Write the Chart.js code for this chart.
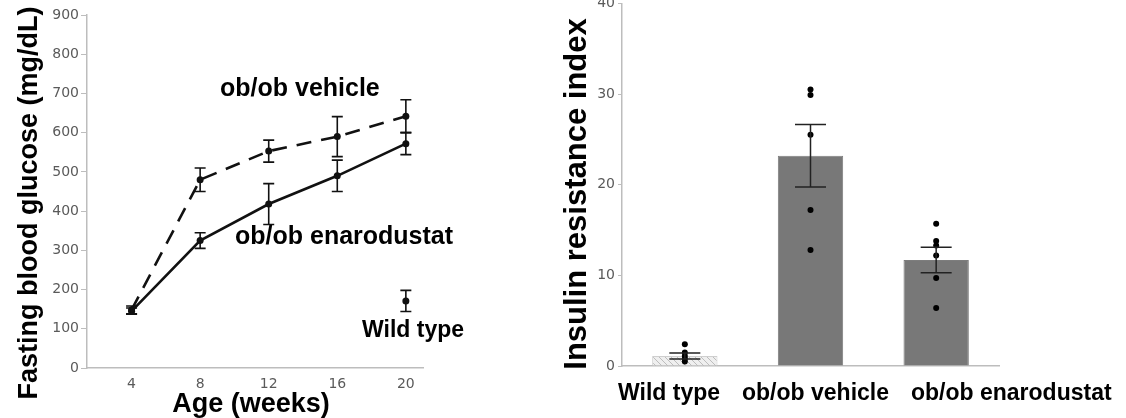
<!DOCTYPE html>
<html>
<head>
<meta charset="utf-8">
<script src="https://cdn.jsdelivr.net/npm/chart.js@4.4.1/dist/chart.umd.min.js"></script>
<style>
  html, body { margin: 0; padding: 0; background: #fff; }
  #wrap { position: relative; width: 1126px; height: 418px; overflow: hidden; }
  #glucose { position: absolute; left: 0; top: 0; }
  /* top label of this panel sits half outside the figure, as in the source */
  #homa { position: absolute; left: 540px; top: -8px; }
</style>
</head>
<body>
<div id="wrap">
  <canvas id="glucose" width="540" height="418"></canvas>
  <canvas id="homa" width="586" height="426"></canvas>
</div>
<script>
// left panel: fasting glucose by age
const weeks = [4, 8, 12, 16, 20];
const weekTicks = [4, 8, 12, 16, 20];
const vehicleGlucose = [148, 480, 553, 590, 642];
const vehicleGlucoseSem = [10, 30, 28, 51, 42];
const enaroGlucose = [145, 325, 418, 490, 572];
const enaroGlucoseSem = [8, 20, 52, 40, 28];
const wildWeeks = [20];
const wildGlucose = [171];
const wildGlucoseSem = [27];

// right panel: insulin resistance index
const groups = ["Wild type", "ob/ob vehicle", "ob/ob enarodustat"];
const irMean = [1.1, 23.2, 11.7];
const irSem = [0.33, 3.45, 1.4];
const irWild = [2.4, 1.5, 1.1, 0.8, 0.5];
const irVehicle = [30.5, 29.9, 25.5, 17.2, 12.8];
const irEnaro = [15.7, 13.8, 13.3, 12.2, 9.7, 6.4];

const BOLD = "bold {s}px 'Liberation Sans', Arial, sans-serif";
const boldFont = (s) => BOLD.replace("{s}", s);
const tickFont = { family: "'DejaVu Sans', sans-serif", size: 14 };
const tickColor = "#5a5a5a";
const axisGray = "#bdbdbd";

Chart.defaults.font.family = "'DejaVu Sans', sans-serif";
Chart.defaults.animation = false;

// mean +/- sem whiskers, read from dataset.sem
const errorBars = {
  id: "errorBars",
  afterDatasetsDraw(chart, args, opts) {
    const { ctx } = chart;
    const yScale = chart.scales.y;
    chart.data.datasets.forEach((ds, i) => {
      if (!ds.sem) return;
      const meta = chart.getDatasetMeta(i);
      meta.data.forEach((el, j) => {
        const v = meta.controller.getParsed(j).y;
        const top = yScale.getPixelForValue(v + ds.sem[j]);
        const bot = yScale.getPixelForValue(v - ds.sem[j]);
        const x = el.x;
        ctx.save();
        ctx.strokeStyle = opts.color || "#111";
        ctx.lineWidth = opts.width || 1.5;
        ctx.beginPath();
        ctx.moveTo(x, top); ctx.lineTo(x, bot);
        ctx.moveTo(x - opts.cap, top); ctx.lineTo(x + opts.cap, top);
        ctx.moveTo(x - opts.cap, bot); ctx.lineTo(x + opts.cap, bot);
        ctx.stroke();
        ctx.restore();
      });
    });
  },
};

// free text: rotated y title, x title, annotations
const freeText = {
  id: "freeText",
  afterDraw(chart, args, opts) {
    const { ctx } = chart;
    (opts.items || []).forEach((t) => {
      ctx.save();
      ctx.fillStyle = "#000";
      ctx.font = boldFont(t.size);
      ctx.textBaseline = "alphabetic";
      ctx.textAlign = t.align || "left";
      ctx.translate(t.x, t.y);
      if (t.rotate) ctx.rotate(-Math.PI / 2);
      ctx.fillText(t.text, 0, 0);
      ctx.restore();
    });
  },
};

// category names under the bar axis, set as one running line
const groupLabels = {
  id: "groupLabels",
  afterDraw(chart, args, opts) {
    const { ctx, chartArea } = chart;
    ctx.save();
    ctx.font = boldFont(opts.size);
    ctx.fillStyle = "#000";
    let x = chartArea.left + opts.offset;
    chart.data.labels.forEach((lab) => {
      ctx.fillText(lab, x, opts.baseline);
      x += ctx.measureText(lab).width + opts.gap;
    });
    ctx.restore();
  },
};

function hatch() {
  const c = document.createElement("canvas");
  c.width = 6; c.height = 6;
  const g = c.getContext("2d");
  g.fillStyle = "#efefef";
  g.fillRect(0, 0, 6, 6);
  g.strokeStyle = "#bdbdbd";
  g.lineWidth = 1;
  g.beginPath();
  g.moveTo(-1, -1); g.lineTo(7, 7);
  g.moveTo(-1, 5); g.lineTo(1, 7);
  g.moveTo(5, -1); g.lineTo(7, 1);
  g.stroke();
  return document.getElementById("homa").getContext("2d").createPattern(c, "repeat");
}

const pts = (xs, ys) => xs.map((x, i) => ({ x, y: ys[i] }));

new Chart(document.getElementById("glucose"), {
  type: "line",
  data: {
    datasets: [
      {
        label: "ob/ob vehicle",
        data: pts(weeks, vehicleGlucose),
        sem: vehicleGlucoseSem,
        borderColor: "#111",
        borderWidth: 2.6,
        borderDash: [15, 10],
        pointRadius: 3.5,
        pointBackgroundColor: "#111",
        pointBorderWidth: 0,
      },
      {
        label: "ob/ob enarodustat",
        data: pts(weeks, enaroGlucose),
        sem: enaroGlucoseSem,
        borderColor: "#111",
        borderWidth: 2.6,
        pointRadius: 3.5,
        pointBackgroundColor: "#111",
        pointBorderWidth: 0,
      },
      {
        label: "Wild type",
        data: pts(wildWeeks, wildGlucose),
        sem: wildGlucoseSem,
        showLine: false,
        pointRadius: 3.5,
        pointBackgroundColor: "#111",
        pointBorderWidth: 0,
      },
    ],
  },
  plugins: [errorBars, freeText],
  options: {
    responsive: false,
    layout: { autoPadding: false, padding: { top: 15, right: 117, left: 0, bottom: 0 } },
    scales: {
      x: {
        type: "linear",
        min: 1.4,
        max: 21,
        afterBuildTicks(scale) { scale.ticks = weekTicks.map((v) => ({ value: v })); },
        afterFit(scale) { scale.height = 50; },
        grid: { display: true, drawOnChartArea: false, drawTicks: false },
        border: { color: axisGray, width: 1.5 },
        ticks: { font: tickFont, color: tickColor, padding: 8 },
      },
      y: {
        min: 0,
        max: 900,
        afterFit(scale) { scale.width = 87; },
        grid: { display: true, drawOnChartArea: false, tickLength: 6, color: axisGray },
        border: { color: axisGray, width: 1.5 },
        ticks: { stepSize: 100, font: tickFont, color: tickColor, padding: 2 },
      },
    },
    plugins: {
      legend: { display: false },
      tooltip: { enabled: false },
      errorBars: { cap: 5.5, width: 1.6 },
      freeText: {
        items: [
          { text: "Fasting blood glucose (mg/dL)", size: 27, x: 37, y: 203, rotate: true, align: "center" },
          { text: "Age (weeks)", size: 27, x: 251, y: 412, align: "center" },
          { text: "ob/ob vehicle", size: 25, x: 220, y: 96 },
          { text: "ob/ob enarodustat", size: 25, x: 235, y: 244 },
          { text: "Wild type", size: 23, x: 362, y: 337 },
        ],
      },
    },
  },
});

const dots = []
  .concat(irWild.map((y) => ({ x: groups[0], y })))
  .concat(irVehicle.map((y) => ({ x: groups[1], y })))
  .concat(irEnaro.map((y) => ({ x: groups[2], y })));

new Chart(document.getElementById("homa"), {
  type: "bar",
  data: {
    labels: groups,
    datasets: [
      {
        label: "Insulin resistance index",
        data: irMean,
        sem: irSem,
        backgroundColor: [hatch(), "#787878", "#787878"],
        borderColor: ["#cfcfcf", "#7d7d7d", "#7d7d7d"],
        borderWidth: 1,
        barPercentage: 0.52,
        categoryPercentage: 1,
        order: 2,
      },
      {
        type: "line",
        label: "individual",
        data: dots,
        showLine: false,
        pointRadius: 3,
        pointBackgroundColor: "#000",
        pointBorderWidth: 0,
        order: 1,
      },
    ],
  },
  plugins: [errorBars, freeText, groupLabels],
  options: {
    responsive: false,
    layout: { autoPadding: false, padding: { top: 10, right: 127, left: 0, bottom: 0 } },
    scales: {
      x: {
        afterFit(scale) { scale.height = 52; },
        grid: { display: true, drawOnChartArea: false, drawTicks: false },
        border: { color: axisGray, width: 1.5 },
        ticks: { display: false },
      },
      y: {
        min: 0,
        max: 40,
        afterFit(scale) { scale.width = 82; },
        grid: { display: true, drawOnChartArea: false, tickLength: 4, color: axisGray },
        border: { color: axisGray, width: 1.5 },
        ticks: { stepSize: 10, font: tickFont, color: tickColor, padding: 3 },
      },
    },
    plugins: {
      legend: { display: false },
      tooltip: { enabled: false },
      errorBars: { cap: 15.5, width: 1.5, color: "#222" },
      groupLabels: { size: 23, offset: -4, gap: 22, baseline: 408 },
      freeText: {
        items: [
          { text: "Insulin resistance index", size: 31, x: 46, y: 202, rotate: true, align: "center" },
        ],
      },
    },
  },
});
</script>
</body>
</html>
